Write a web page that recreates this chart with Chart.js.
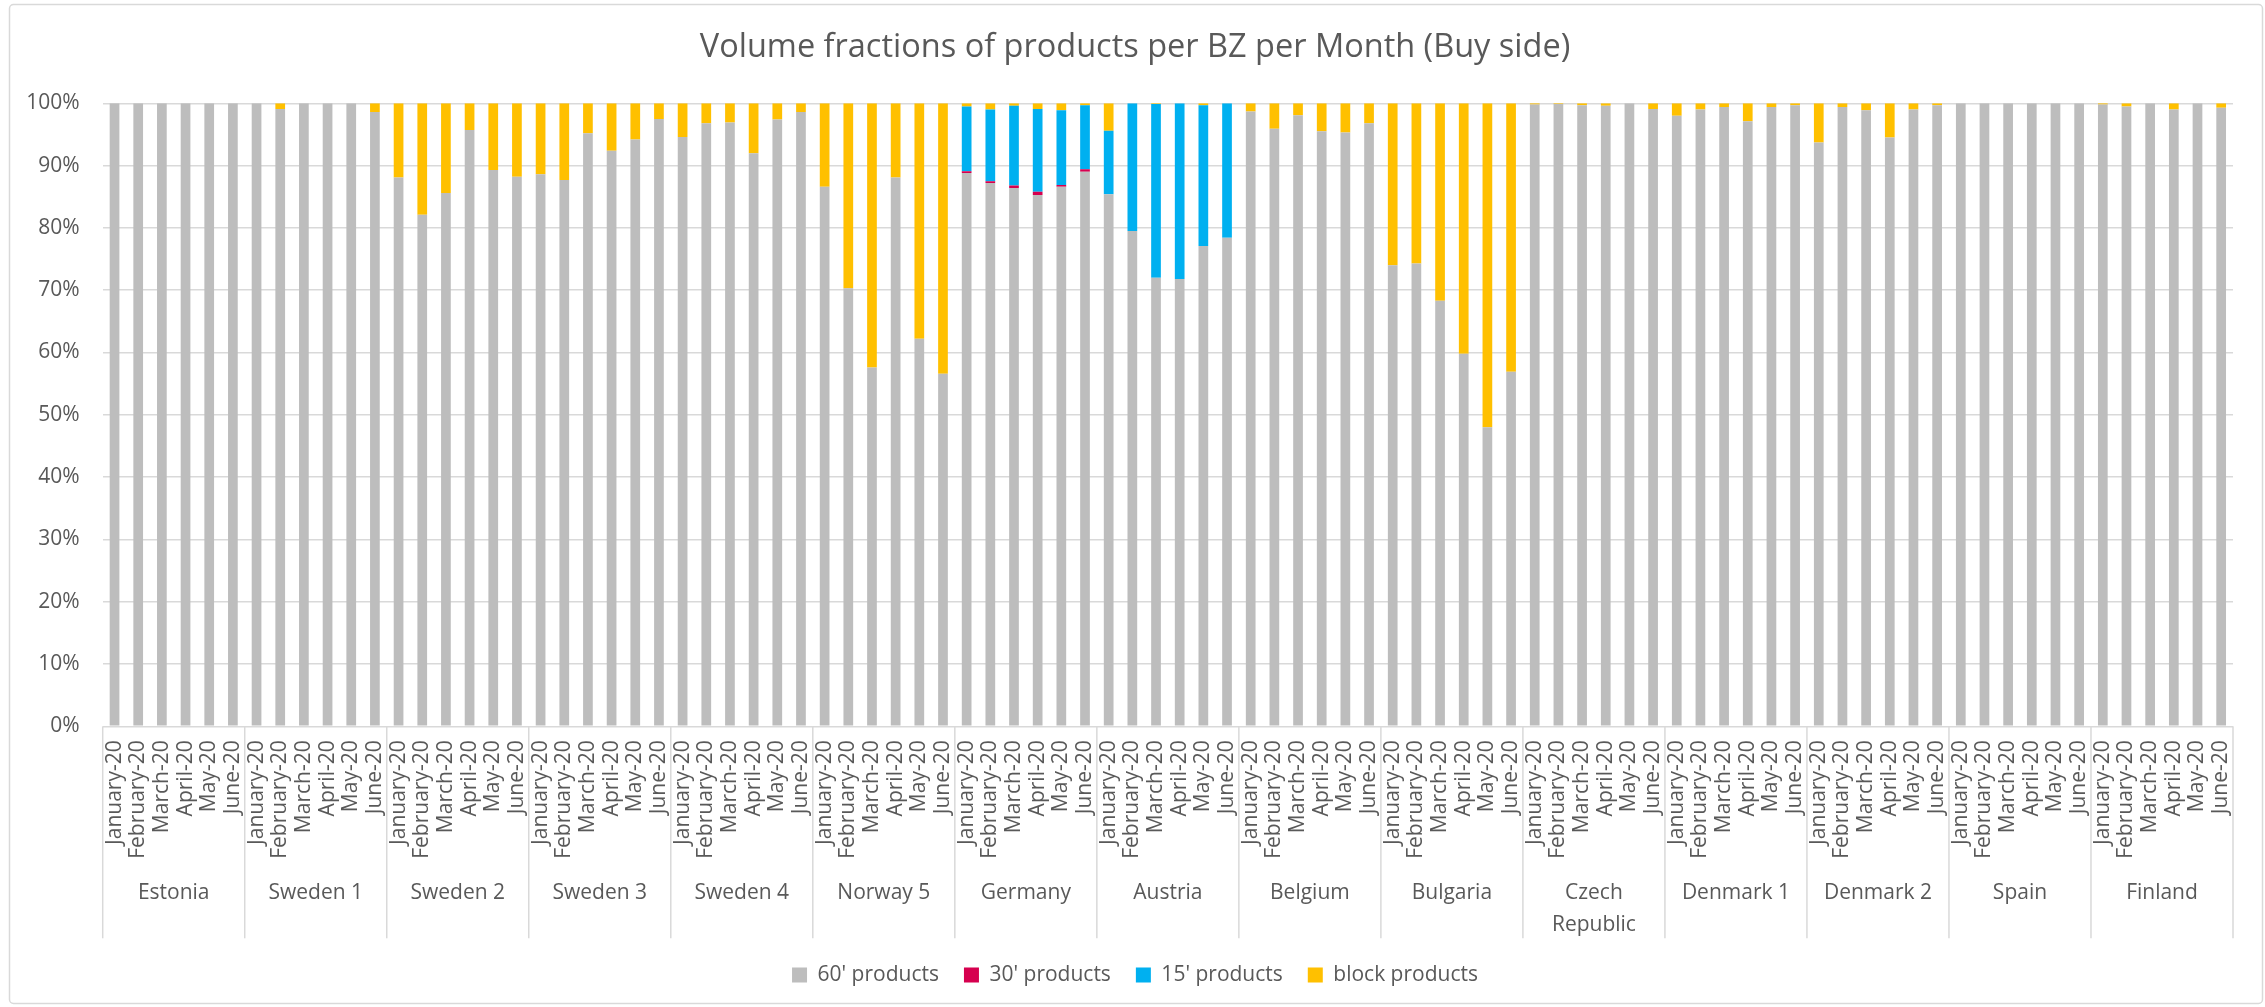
<!DOCTYPE html>
<html>
<head>
<meta charset="utf-8">
<script src="https://cdn.jsdelivr.net/npm/chart.js@4.4.1/dist/chart.umd.min.js"></script>
<style>
  html, body { margin: 0; padding: 0; background: #ffffff; }
  #wrap { width: 2265px; height: 1007px; }
</style>
</head>
<body>
<div id="wrap"><canvas id="c" width="2265" height="1007"></canvas></div>
<script>
// ---------- data ----------
const groups = ['Estonia', 'Sweden 1', 'Sweden 2', 'Sweden 3', 'Sweden 4', 'Norway 5', 'Germany', 'Austria',
  'Belgium', 'Bulgaria', ['Czech', 'Republic'], 'Denmark 1', 'Denmark 2', 'Spain', 'Finland'];
const months = ['January-20', 'February-20', 'March-20', 'April-20', 'May-20', 'June-20'];
const yTicks = [0, 10, 20, 30, 40, 50, 60, 70, 80, 90, 100];

const products60 = [
  100, 100, 100, 100, 100, 100,          // Estonia
  100, 99.1, 100, 100, 100, 98.6,        // Sweden 1
  88.1, 82.1, 85.6, 95.7, 89.3, 88.2,    // Sweden 2
  88.6, 87.7, 95.2, 92.4, 94.2, 97.5,    // Sweden 3
  94.6, 96.8, 96.9, 92.0, 97.4, 98.6,    // Sweden 4
  86.6, 70.3, 57.6, 88.1, 62.2, 56.6,    // Norway 5
  88.8, 87.2, 86.4, 85.3, 86.6, 89.0,    // Germany
  85.4, 79.5, 72.0, 71.8, 77.1, 78.4,    // Austria
  98.7, 95.9, 98.1, 95.5, 95.3, 96.8,    // Belgium
  74.0, 74.3, 68.3, 59.8, 48.0, 56.9,    // Bulgaria
  99.8, 99.9, 99.7, 99.6, 100, 99.1,     // Czech Republic
  98.0, 99.0, 99.4, 97.1, 99.4, 99.7,    // Denmark 1
  93.7, 99.4, 98.9, 94.5, 99.0, 99.7,    // Denmark 2
  100, 100, 100, 100, 100, 100,          // Spain
  99.8, 99.5, 100, 99.0, 100, 99.3       // Finland
];
const products30 = [
  0, 0, 0, 0, 0, 0,
  0, 0, 0, 0, 0, 0,
  0, 0, 0, 0, 0, 0,
  0, 0, 0, 0, 0, 0,
  0, 0, 0, 0, 0, 0,
  0, 0, 0, 0, 0, 0,
  0.3, 0.3, 0.4, 0.5, 0.3, 0.4,
  0, 0, 0, 0, 0, 0,
  0, 0, 0, 0, 0, 0,
  0, 0, 0, 0, 0, 0,
  0, 0, 0, 0, 0, 0,
  0, 0, 0, 0, 0, 0,
  0, 0, 0, 0, 0, 0,
  0, 0, 0, 0, 0, 0,
  0, 0, 0, 0, 0, 0
];
const products15 = [
  0, 0, 0, 0, 0, 0,
  0, 0, 0, 0, 0, 0,
  0, 0, 0, 0, 0, 0,
  0, 0, 0, 0, 0, 0,
  0, 0, 0, 0, 0, 0,
  0, 0, 0, 0, 0, 0,
  10.4, 11.5, 12.8, 13.3, 12.0, 10.3,
  10.2, 20.5, 27.9, 28.2, 22.6, 21.6,
  0, 0, 0, 0, 0, 0,
  0, 0, 0, 0, 0, 0,
  0, 0, 0, 0, 0, 0,
  0, 0, 0, 0, 0, 0,
  0, 0, 0, 0, 0, 0,
  0, 0, 0, 0, 0, 0,
  0, 0, 0, 0, 0, 0
];
const productsBlock = [
  0, 0, 0, 0, 0, 0,
  0, 0.9, 0, 0, 0, 1.4,
  11.9, 17.9, 14.4, 4.3, 10.7, 11.8,
  11.4, 12.3, 4.8, 7.6, 5.8, 2.5,
  5.4, 3.2, 3.1, 8.0, 2.6, 1.4,
  13.4, 29.7, 42.4, 11.9, 37.8, 43.4,
  0.5, 1.0, 0.4, 0.9, 1.1, 0.3,
  4.4, 0, 0.1, 0, 0.3, 0,
  1.3, 4.1, 1.9, 4.5, 4.7, 3.2,
  26.0, 25.7, 31.7, 40.2, 52.0, 43.1,
  0.2, 0.1, 0.3, 0.4, 0, 0.9,
  2.0, 1.0, 0.6, 2.9, 0.6, 0.3,
  6.3, 0.6, 1.1, 5.5, 1.0, 0.3,
  0, 0, 0, 0, 0, 0,
  0.2, 0.5, 0, 1.0, 0, 0.7
];

// ---------- styling ----------
const TEXT = '#595959';
const GRID = '#d9d9d9';
Chart.defaults.font.family = "'Open Sans', sans-serif";
Chart.defaults.color = TEXT;

const monthLabels = groups.flatMap(() => months);

const background = {
  id: 'background',
  beforeDraw(chart) {
    const ctx = chart.ctx;
    ctx.save();
    ctx.fillStyle = '#ffffff';
    ctx.fillRect(0, 0, chart.width, chart.height);
    ctx.strokeStyle = GRID;
    ctx.lineWidth = 1.5;
    ctx.beginPath();
    ctx.roundRect(9.5, 4.5, chart.width - 12, chart.height - 8, 4);
    ctx.stroke();
    ctx.restore();
  }
};

const groupSeparators = {
  id: 'groupSeparators',
  afterDraw(chart) {
    const g = chart.scales.groups;
    const ctx = chart.ctx;
    const half = (g.getPixelForValue(1) - g.getPixelForValue(0)) / 2;
    ctx.save();
    ctx.strokeStyle = GRID;
    ctx.lineWidth = 1.5;
    for (let i = 0; i <= groups.length; i++) {
      const px = i < groups.length ? g.getPixelForValue(i) - half : g.getPixelForValue(i - 1) + half;
      ctx.beginPath();
      ctx.moveTo(px, chart.chartArea.bottom);
      ctx.lineTo(px, g.top + 72);
      ctx.stroke();
    }
    ctx.restore();
  }
};

const ds = (label, data, color) => ({
  label, data, backgroundColor: color, borderWidth: 0,
  barPercentage: 0.41, categoryPercentage: 1.0
});

new Chart(document.getElementById('c'), {
  type: 'bar',
  data: {
    labels: monthLabels,
    datasets: [
      ds("60' products", products60, '#BDBDBD'),
      ds("30' products", products30, '#D6004F'),
      ds("15' products", products15, '#00B0F0'),
      ds('block products', productsBlock, '#FFC000')
    ]
  },
  options: {
    responsive: false,
    animation: false,
    devicePixelRatio: 1,
    events: [],
    layout: { padding: { left: 5, right: 0, top: 0, bottom: 11.5 } },
    scales: {
      x: {
        stacked: true,
        offset: true,
        grid: { display: false, drawTicks: false },
        border: { display: false },
        ticks: {
          autoSkip: false, maxRotation: 90, minRotation: 90, padding: 14,
          font: { size: 21 }, color: TEXT
        },
        afterFit(s) { s.height = 140; }
      },
      groups: {
        type: 'category',
        labels: groups,
        position: 'bottom',
        offset: true,
        grid: { display: false, drawTicks: false },
        border: { display: false },
        ticks: {
          autoSkip: false, maxRotation: 0, minRotation: 0, padding: 11,
          font: { size: 21, lineHeight: 1.5 }, color: TEXT
        },
        afterFit(s) { s.height = 73.2; }
      },
      y: {
        stacked: true,
        min: 0,
        max: 100,
        afterBuildTicks(s) { s.ticks = yTicks.map(v => ({ value: v })); },
        grid: { color: GRID, lineWidth: 1.5, drawTicks: false },
        border: { display: false },
        ticks: {
          padding: 23,
          font: { size: 21 }, color: TEXT,
          callback: v => v + '%'
        },
        afterFit(s) { s.width = 97.7; }
      },
      rightGap: {
        type: 'linear',
        position: 'right',
        grid: { display: false, drawTicks: false },
        border: { display: false },
        ticks: { display: false },
        afterFit(s) { s.width = 32; }
      }
    },
    plugins: {
      title: {
        display: true,
        text: 'Volume fractions of products per BZ per Month (Buy side)',
        font: { size: 32.5, weight: 'normal' },
        color: TEXT,
        padding: { top: 28.5, bottom: 35.8 }
      },
      legend: {
        position: 'bottom',
        labels: {
          boxWidth: 15, boxHeight: 15, padding: 25,
          font: { size: 21 }, color: TEXT
        }
      },
      tooltip: { enabled: false }
    }
  },
  plugins: [background, groupSeparators]
});
</script>
</body>
</html>
